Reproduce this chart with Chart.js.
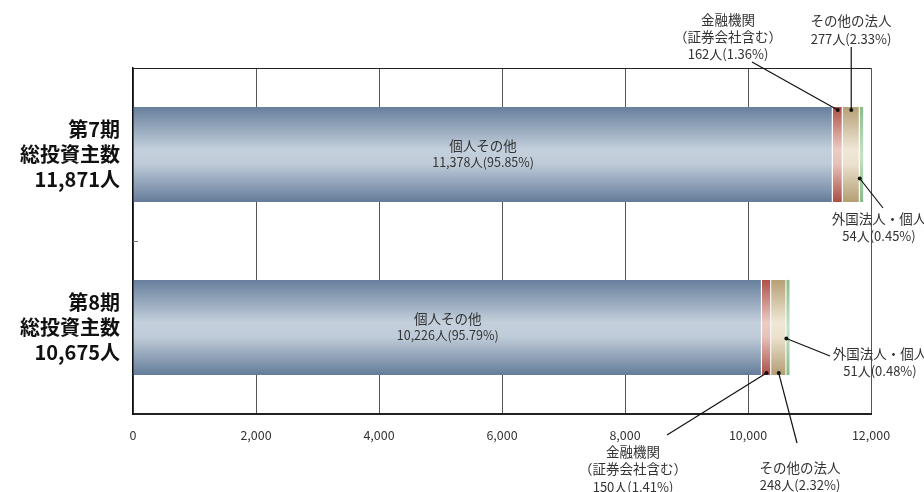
<!DOCTYPE html>
<html>
<head>
<meta charset="utf-8">
<script src="https://cdn.jsdelivr.net/npm/chart.js@4/dist/chart.umd.min.js"></script>
<style>
  html, body { margin: 0; padding: 0; background: #fff; }
  #wrap { width: 924px; height: 492px; }
</style>
</head>
<body>
<div id="wrap"><canvas id="c" width="924" height="492"></canvas></div>
<script>
// ---- data ----
const periods = ['第7期', '第8期'];
const totalInvestors = ['11,871人', '10,675人'];
const seriesNames = ['個人その他', '金融機関（証券会社含む）', 'その他の法人', '外国法人・個人'];
const individuals = [11378, 10226];
const financial = [162, 150];
const otherCorp = [277, 248];
const foreign = [54, 51];
const individualsPct = ['95.85%', '95.79%'];
const financialPct = ['1.36%', '1.41%'];
const otherCorpPct = ['2.33%', '2.32%'];
const foreignPct = ['0.45%', '0.48%'];
const xTickStep = 2000;
const xMax = 12000;

const FONT = '"Noto Sans CJK JP", "Noto Sans", sans-serif';
const BAR_FRACTION = 0.55;
const fmt = v => v.toLocaleString('en-US');

// vertical shading across each bar (dark edges, light middle)
function barGradient(stops) {
  return (ctx) => {
    const chart = ctx.chart;
    const ys = chart.scales && chart.scales.y;
    if (!chart.chartArea || !ys) return stops[0][1];
    const i = ctx.dataIndex || 0;
    const c = ys.getPixelForValue(i);
    const h = (ys.bottom - ys.top) / periods.length * BAR_FRACTION;
    const g = chart.ctx.createLinearGradient(0, c - h / 2, 0, c + h / 2);
    stops.forEach(([o, col]) => g.addColorStop(o, col));
    return g;
  };
}

const blueShade = barGradient([[0, '#677f9d'], [0.45, '#c4d0dc'], [0.6, '#bfcbd8'], [1, '#647c9a']]);
const redShade = barGradient([[0, '#ae5148'], [0.45, '#ecccc4'], [0.6, '#e6c2b9'], [1, '#ab4d45']]);
const tanShade = barGradient([[0, '#b6a075'], [0.45, '#efe7d6'], [0.6, '#ebe1cd'], [1, '#b39d72']]);
const greenShade = barGradient([[0, '#88bd8a'], [0.5, '#c6e3c5'], [1, '#86bb88']]);

// leader-line callouts for the thin segments
const callouts = [
  { ds: 1, i: 0, anchor: 'top', dy: 3, tx: 728, ty: [20, 37, 54], from: [752, 62],
    lines: ['金融機関', '（証券会社含む）', `${fmt(financial[0])}人(${financialPct[0]})`] },
  { ds: 2, i: 0, anchor: 'top', dy: 3, tx: 851, ty: [21, 39], from: [null, 47],
    lines: ['その他の法人', `${fmt(otherCorp[0])}人(${otherCorpPct[0]})`] },
  { ds: 3, i: 0, anchor: 'side', dy: 24, tx: 879, ty: [219, 236], from: [883, 208],
    lines: ['外国法人・個人', `${fmt(foreign[0])}人(${foreignPct[0]})`] },
  { ds: 3, i: 1, anchor: 'side', dy: 11, tx: 880, ty: [354, 371], from: [830, 356],
    lines: ['外国法人・個人', `${fmt(foreign[1])}人(${foreignPct[1]})`] },
  { ds: 1, i: 1, anchor: 'bottom', dy: -2, tx: 633, ty: [452, 469, 487], from: [667, 435],
    lines: ['金融機関', '（証券会社含む）', `${fmt(financial[1])}人(${financialPct[1]})`] },
  { ds: 2, i: 1, anchor: 'bottom', dy: -2, tx: 800, ty: [468, 485], from: [797, 443],
    lines: ['その他の法人', `${fmt(otherCorp[1])}人(${otherCorpPct[1]})`] },
];

const annotate = {
  id: 'annotate',
  afterDatasetsDraw(chart) {
    const { ctx, chartArea: a } = chart;
    const ys = chart.scales.y;
    ctx.save();
    // frame top edge
    ctx.strokeStyle = '#222';
    ctx.lineWidth = 1;
    ctx.beginPath();
    ctx.moveTo(a.left, a.top + 0.5);
    ctx.lineTo(a.right, a.top + 0.5);
    ctx.stroke();
    // small tick between the two categories
    const mid = Math.round((ys.getPixelForValue(0) + ys.getPixelForValue(1)) / 2) + 0.5;
    ctx.strokeStyle = '#777';
    ctx.beginPath();
    ctx.moveTo(a.left, mid);
    ctx.lineTo(a.left + 5, mid);
    ctx.stroke();

    // labels inside the main segment
    const meta0 = chart.getDatasetMeta(0);
    ctx.fillStyle = '#333';
    ctx.textAlign = 'center';
    ctx.textBaseline = 'middle';
    meta0.data.forEach((el, i) => {
      const cx = (el.x + el.base) / 2;
      ctx.font = `13.5px ${FONT}`;
      ctx.fillText(seriesNames[0], cx, el.y - 9);
      ctx.font = `12.5px ${FONT}`;
      ctx.fillText(`${fmt(individuals[i])}人(${individualsPct[i]})`, cx, el.y + 8);
    });

    // callouts with leader lines
    callouts.forEach(c => {
      const el = chart.getDatasetMeta(c.ds).data[c.i];
      const h = el.height;
      let px, py;
      if (c.anchor === 'top') { px = (el.x + el.base) / 2; py = el.y - h / 2 + c.dy; }
      else if (c.anchor === 'bottom') { px = (el.x + el.base) / 2; py = el.y + h / 2 + c.dy; }
      else { px = el.base; py = el.y + c.dy; }
      const fx = c.from[0] === null ? px : c.from[0];
      ctx.strokeStyle = '#111';
      ctx.lineWidth = 1.2;
      ctx.beginPath();
      ctx.moveTo(fx, c.from[1]);
      ctx.lineTo(px, py);
      ctx.stroke();
      ctx.fillStyle = '#111';
      ctx.beginPath();
      ctx.arc(px, py, 2, 0, Math.PI * 2);
      ctx.fill();
      ctx.fillStyle = '#333';
      c.lines.forEach((t, k) => {
        ctx.font = (k === c.lines.length - 1) ? `13px ${FONT}` : `13.5px ${FONT}`;
        ctx.fillText(t, c.tx, c.ty[k]);
      });
    });
    ctx.restore();
  }
};

new Chart(document.getElementById('c'), {
  type: 'bar',
  data: {
    labels: periods,
    datasets: [
      { label: seriesNames[0], data: individuals, backgroundColor: blueShade },
      { label: seriesNames[1], data: financial, backgroundColor: redShade },
      { label: seriesNames[2], data: otherCorp, backgroundColor: tanShade },
      { label: seriesNames[3], data: foreign, backgroundColor: greenShade },
    ].map((d, k) => Object.assign(d, {
      borderColor: '#ffffff',
      borderWidth: { top: 0, bottom: 0, left: 0, right: k < 3 ? 1 : 0 },
      borderSkipped: false,
      categoryPercentage: BAR_FRACTION, barPercentage: 1
    }))
  },
  options: {
    indexAxis: 'y',
    responsive: false,
    animation: false,
    events: [],
    layout: { padding: { top: 68, right: 53, bottom: 48, left: 0 } },
    plugins: { legend: { display: false }, tooltip: { enabled: false } },
    scales: {
      x: {
        stacked: true,
        min: 0,
        max: xMax,
        ticks: {
          stepSize: xTickStep,
          callback: v => fmt(v),
          font: { family: FONT, size: 12.5 },
          color: '#333',
          padding: 14,
          maxRotation: 0
        },
        grid: { color: '#555', lineWidth: 1, drawTicks: false },
        border: { color: '#222', width: 2 },
        afterFit: s => { s.height = 30; }
      },
      y: {
        stacked: true,
        ticks: {
          callback: (v, i) => [periods[i], '総投資主数', totalInvestors[i]],
          font: { family: FONT, size: 20, weight: 'bold', lineHeight: 1.23 },
          color: '#111',
          padding: 13
        },
        grid: { display: false, drawTicks: false },
        border: { color: '#111', width: 1.5 },
        afterFit: s => { s.width = 133; }
      }
    }
  },
  plugins: [annotate]
});
</script>
</body>
</html>
